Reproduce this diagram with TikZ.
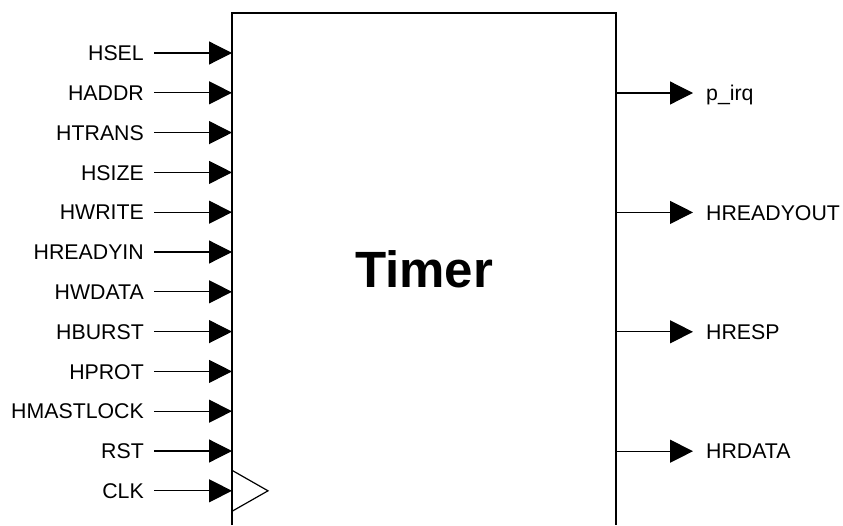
\documentclass[tikz,border=0pt]{standalone}
\usepackage{fontspec}
\setmainfont{Liberation Sans}
\usetikzlibrary{arrows.meta}
\usetikzlibrary{positioning}

\begin{document}
\begin{tikzpicture}[x=1pt,y=-1pt,
    sig/.style={line width=1.2pt,-{Triangle[length=23pt,width=23pt]}},
    pin/.style={font=\fontsize{21.3}{25}\selectfont,inner ysep=0pt,text height=15.2pt,text depth=0pt}]
    \useasboundingbox (0,0) rectangle (843,525);

    % block outline, open at the bottom
    \draw[line width=1.6pt] (232,525) -- (232,13) -- (616,13) -- (616,525);
    \node[font=\fontsize{51}{60}\selectfont\bfseries,anchor=base] (name) at (424,287) {Timer};

    % inputs
    \foreach \lbl [count=\i from 0] in {HSEL,HADDR,HTRANS,HSIZE,HWRITE,HREADYIN,HWDATA,HBURST,HPROT,HMASTLOCK,RST,CLK} {
      \coordinate (in\i) at (232,53+39.8*\i);
      \node[pin,anchor=east,inner xsep=10pt] (l\i) at (154,53+39.8*\i) {\lbl};
      \draw[sig] (l\i) -- (in\i);
    }

    % clock marker
    \draw[line width=1.2pt] ([yshift=20.5pt]in11) -- ++(36,20.5) -- ++(-36,20.5);

    % outputs
    \foreach \lbl [count=\j from 0] in {p\_irq,HREADYOUT,HRESP,HRDATA} {
      \coordinate (out\j) at (616,93+119.4*\j);
      \node[pin,anchor=west,inner xsep=13pt] (r\j) at (693,93+119.4*\j) {\lbl};
      \draw[sig] (out\j) -- (r\j);
    }
\end{tikzpicture}
\end{document}
